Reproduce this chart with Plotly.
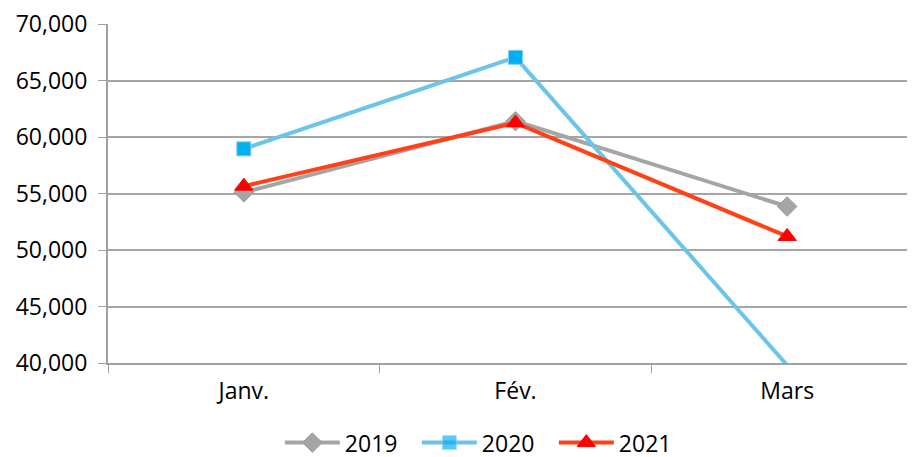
import plotly.graph_objects as go

# Données
mois = ["Janv.", "Fév.", "Mars"]
ventes_2019 = [55100, 61400, 53850]
ventes_2020 = [58950, 67050, 39800]
ventes_2021 = [55650, 61250, 51200]

y_min, y_max = 40000, 70000

series = [
    ("2019", ventes_2019, "#A5A5A5", "#A5A5A5", "#9A9A9A", "diamond", 15),
    ("2020", ventes_2020, "#6CC4E8", "#00B0F0", "#7FCDEE", "square", 14),
    ("2021", ventes_2021, "#FF4117", "#FF0000", "#FF0000", "triangle-up", 16),
]

fig = go.Figure()
for nom, vals, c_ligne, c_marq, c_bord, symb, taille in series:
    # les points hors de l'axe ne montrent pas de marqueur (comme Excel)
    opac = [1 if v >= y_min else 0 for v in vals]
    fig.add_trace(go.Scatter(
        x=mois, y=vals, name=nom, mode="lines+markers",
        line=dict(color=c_ligne, width=4),
        marker=dict(symbol=symb, size=taille, color=c_marq, opacity=opac,
                    line=dict(color=c_bord, width=1)),
    ))

# la page ajoute 8px de marge au corps : on compense
fig.update_layout(
    width=915, height=457,
    margin=dict(l=100, r=0, t=16, b=102),
    paper_bgcolor="white", plot_bgcolor="white",
    font=dict(family="Open Sans", size=23, color="#000000"),
    showlegend=True,
    legend=dict(orientation="h", x=0.463, xanchor="center", y=-0.235, yanchor="middle",
                font=dict(size=23), itemwidth=55, tracegroupgap=0,
                entrywidth=67, entrywidthmode="pixels"),
)
fig.update_xaxes(
    type="category", range=[-0.5, 2.5],
    showline=True, linecolor="#A0A0A0", linewidth=2,
    ticks="outside", tickson="boundaries", ticklen=8, tickcolor="#A0A0A0",
    showgrid=False, zeroline=False, automargin=False, ticklabelstandoff=6,
)
fig.update_yaxes(
    range=[y_min, y_max], dtick=5000, tickformat=",d",
    showline=True, linecolor="#A0A0A0", linewidth=2,
    ticks="outside", ticklen=8, tickcolor="#A0A0A0",
    showgrid=True, gridcolor="#A6A6A6", gridwidth=1.5, zeroline=False,
    ticklabelstandoff=6, automargin=False, ticklabeloverflow="allow",
)

fig.write_html("out.html")
